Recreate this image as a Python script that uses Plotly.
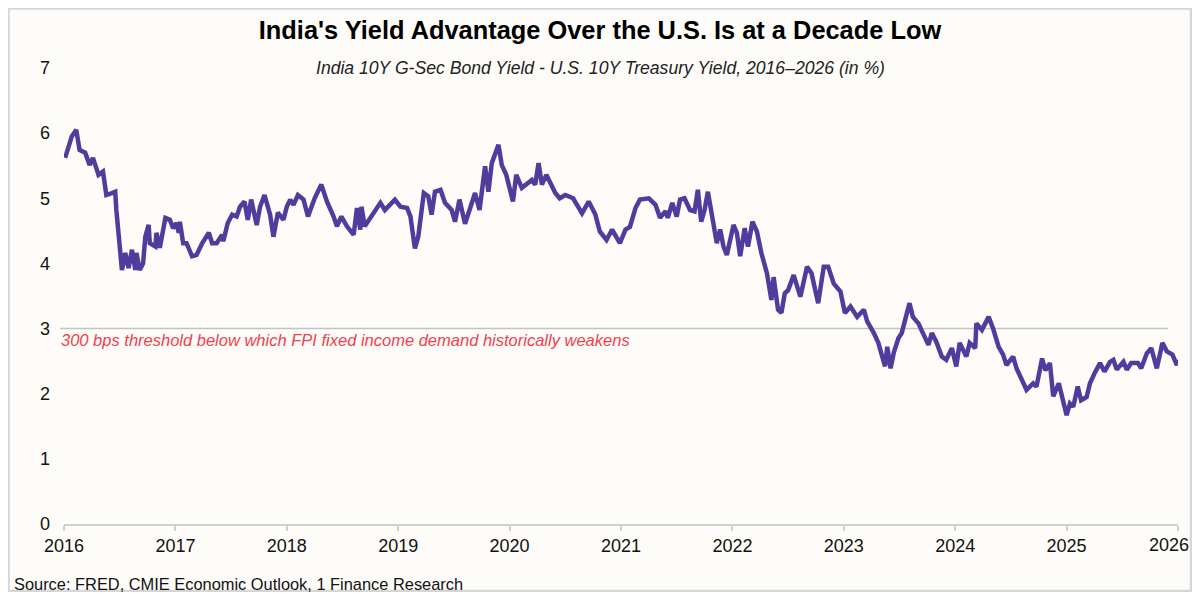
"""India 10Y minus US 10Y yield spread, 2016-2026."""
import plotly.graph_objects as go

# time axis in decimal years
years = [
    2016.01, 2016.04, 2016.07, 2016.11, 2016.13, 2016.14, 2016.19, 2016.23, 2016.26, 2016.31,
    2016.35, 2016.38, 2016.43, 2016.46, 2016.47, 2016.50, 2016.52, 2016.55, 2016.58, 2016.61,
    2016.64, 2016.65, 2016.68, 2016.71, 2016.73, 2016.76, 2016.77, 2016.82, 2016.83, 2016.86,
    2016.91, 2016.95, 2016.98, 2017.01, 2017.03, 2017.04, 2017.07, 2017.10, 2017.15, 2017.19,
    2017.24, 2017.30, 2017.33, 2017.37, 2017.42, 2017.43, 2017.47, 2017.51, 2017.55, 2017.58,
    2017.62, 2017.65, 2017.68, 2017.73, 2017.76, 2017.80, 2017.85, 2017.88, 2017.92, 2017.97,
    2018.00, 2018.03, 2018.06, 2018.10, 2018.15, 2018.19, 2018.25, 2018.31, 2018.36, 2018.42,
    2018.45, 2018.49, 2018.54, 2018.60, 2018.63, 2018.66, 2018.67, 2018.70, 2018.76, 2018.84,
    2018.88, 2018.97, 2019.02, 2019.08, 2019.11, 2019.15, 2019.18, 2019.23, 2019.27, 2019.30,
    2019.33, 2019.38, 2019.42, 2019.48, 2019.51, 2019.55, 2019.60, 2019.64, 2019.69, 2019.73,
    2019.78, 2019.81, 2019.84, 2019.90, 2019.93, 2019.97, 2020.03, 2020.06, 2020.11, 2020.20,
    2020.23, 2020.26, 2020.29, 2020.33, 2020.41, 2020.45, 2020.50, 2020.57, 2020.65, 2020.71,
    2020.77, 2020.81, 2020.87, 2020.92, 2020.99, 2021.04, 2021.08, 2021.13, 2021.17, 2021.25,
    2021.31, 2021.35, 2021.40, 2021.42, 2021.46, 2021.50, 2021.53, 2021.57, 2021.62, 2021.66,
    2021.69, 2021.72, 2021.75, 2021.78, 2021.83, 2021.86, 2021.89, 2021.92, 2021.95, 2021.98,
    2022.01, 2022.04, 2022.07, 2022.11, 2022.14, 2022.18, 2022.22, 2022.26, 2022.31, 2022.35,
    2022.37, 2022.41, 2022.44, 2022.47, 2022.50, 2022.55, 2022.61, 2022.67, 2022.71, 2022.77,
    2022.82, 2022.86, 2022.91, 2022.97, 2023.01, 2023.06, 2023.12, 2023.18, 2023.21, 2023.27,
    2023.31, 2023.37, 2023.39, 2023.42, 2023.45, 2023.49, 2023.52, 2023.55, 2023.59, 2023.62,
    2023.67, 2023.71, 2023.76, 2023.79, 2023.83, 2023.88, 2023.92, 2023.97, 2024.01, 2024.04,
    2024.10, 2024.13, 2024.18, 2024.19, 2024.24, 2024.30, 2024.34, 2024.39, 2024.43, 2024.46,
    2024.52, 2024.55, 2024.60, 2024.64, 2024.70, 2024.73, 2024.78, 2024.81, 2024.85, 2024.88,
    2024.93, 2024.97, 2025.00, 2025.03, 2025.06, 2025.10, 2025.13, 2025.18, 2025.21, 2025.25,
    2025.30, 2025.34, 2025.39, 2025.42, 2025.45, 2025.51, 2025.54, 2025.58, 2025.64, 2025.67,
    2025.72, 2025.76, 2025.81, 2025.86, 2025.90, 2025.95, 2025.99, 2026.00,
]

# spread in percentage points
spread = [
    5.62, 5.80, 5.95, 6.05, 5.80, 5.74, 5.70, 5.51, 5.62, 5.36,
    5.41, 5.05, 5.08, 5.10, 4.82, 4.26, 3.90, 4.16, 3.93, 4.21,
    3.90, 4.16, 3.90, 4.00, 4.41, 4.59, 4.31, 4.26, 4.47, 4.24,
    4.70, 4.67, 4.54, 4.62, 4.47, 4.64, 4.31, 4.31, 4.11, 4.13,
    4.31, 4.47, 4.31, 4.31, 4.44, 4.34, 4.62, 4.75, 4.72, 4.87,
    4.95, 4.67, 4.98, 4.59, 4.87, 5.05, 4.75, 4.41, 4.78, 4.67,
    4.87, 4.98, 4.90, 5.05, 4.98, 4.72, 5.00, 5.21, 4.95, 4.72,
    4.57, 4.72, 4.57, 4.44, 4.85, 4.52, 4.87, 4.57, 4.72, 4.93,
    4.82, 4.98, 4.87, 4.85, 4.72, 4.23, 4.41, 5.08, 5.03, 4.75,
    5.10, 5.13, 4.93, 4.82, 4.64, 4.98, 4.61, 4.80, 5.08, 4.82,
    5.49, 5.10, 5.54, 5.82, 5.51, 5.36, 4.95, 5.36, 5.16, 5.28,
    5.21, 5.54, 5.21, 5.36, 5.08, 5.00, 5.05, 5.00, 4.77, 4.95,
    4.75, 4.49, 4.36, 4.52, 4.31, 4.52, 4.56, 4.85, 4.98, 5.00,
    4.90, 4.70, 4.80, 4.70, 4.93, 4.72, 4.98, 5.00, 4.82, 4.80,
    5.13, 4.64, 4.82, 5.10, 4.57, 4.31, 4.52, 4.26, 4.13, 4.36,
    4.59, 4.47, 4.11, 4.54, 4.26, 4.64, 4.49, 4.16, 3.85, 3.44,
    3.79, 3.29, 3.24, 3.54, 3.59, 3.82, 3.49, 3.95, 3.85, 3.39,
    3.95, 3.95, 3.69, 3.57, 3.24, 3.34, 3.18, 3.29, 3.11, 2.93,
    2.78, 2.42, 2.72, 2.39, 2.64, 2.85, 2.93, 3.13, 3.39, 3.18,
    3.08, 2.93, 2.75, 2.93, 2.80, 2.57, 2.52, 2.70, 2.42, 2.78,
    2.57, 2.78, 2.70, 3.08, 2.98, 3.18, 3.00, 2.72, 2.60, 2.44,
    2.57, 2.39, 2.21, 2.06, 2.16, 2.11, 2.54, 2.36, 2.47, 1.96,
    2.16, 1.85, 1.67, 1.85, 1.80, 2.11, 1.90, 1.95, 2.16, 2.31,
    2.47, 2.34, 2.49, 2.52, 2.37, 2.49, 2.37, 2.47, 2.47, 2.39,
    2.62, 2.70, 2.39, 2.78, 2.65, 2.60, 2.44, 2.52,
]

year_ticks = list(range(2016, 2027))
threshold = 3.0

BG = "#FDFCF8"
LINE = "#513C9E"
FONT = "Liberation Sans, Arial, sans-serif"

# the page body sits 8px in from the window edge, so keep the figure inside it
W, H = 1184, 584
ML, MR, MT, MB = 56, 14, 60, 68
PW, PH = W - ML - MR, H - MT - MB


def px_x(x):
    """figure pixel column -> paper x"""
    return (x - ML) / PW


def px_y(y):
    """figure pixel row -> paper y"""
    return (H - MB - y) / PH


fig = go.Figure()

fig.add_trace(go.Scatter(
    x=years, y=spread, mode="lines",
    line=dict(color=LINE, width=4.5),
    hovertemplate="%{x:.2f}: %{y:.2f}%<extra></extra>",
))

# 300 bps reference line
fig.add_shape(
    type="line", xref="paper", yref="y",
    x0=px_x(52), x1=px_x(1160), y0=threshold, y1=threshold,
    line=dict(color="#C4C4C4", width=1.5), layer="below",
)

fig.add_annotation(
    x=px_x(52), y=threshold, xref="paper", yref="y",
    xanchor="left", yanchor="top", yshift=0, xshift=-1, showarrow=False,
    text="<i>300 bps threshold below which FPI fixed income demand historically weakens</i>",
    font=dict(family=FONT, size=16.5, color="#F0404E"),
)

fig.add_annotation(
    x=px_x(W / 2), y=1.0, xref="paper", yref="paper",
    xanchor="center", yanchor="middle", showarrow=False,
    text="<i>India 10Y G-Sec Bond Yield - U.S. 10Y Treasury Yield, 2016\u20132026 (in %)</i>",
    font=dict(family=FONT, size=17.6, color="#222222"),
)

fig.add_annotation(
    x=px_x(4), y=px_y(576), xref="paper", yref="paper",
    xanchor="left", yanchor="middle", showarrow=False,
    text="Source: FRED, CMIE Economic Outlook, 1 Finance Research",
    font=dict(family=FONT, size=16.4, color="#111111"),
)

# last year label sits against the right edge, so pin it inside the page
fig.add_annotation(
    x=px_x(W - 1), y=px_y(537), xref="paper", yref="paper",
    xanchor="right", yanchor="middle", showarrow=False,
    text=str(year_ticks[-1]),
    font=dict(family=FONT, size=18, color="#111111"),
)

# thin grey frame round the whole picture
fig.add_shape(
    type="rect", xref="paper", yref="paper",
    x0=px_x(0.5), x1=px_x(W - 1), y0=px_y(H - 1), y1=px_y(0.5),
    line=dict(color="#D6D6D6", width=2.5), layer="below",
)

fig.update_layout(
    width=W, height=H,
    margin=dict(l=ML, r=MR, t=MT, b=MB),
    paper_bgcolor=BG, plot_bgcolor=BG,
    showlegend=False,
    font=dict(family=FONT, size=18, color="#111111"),
    title=dict(
        text="<b>India's Yield Advantage Over the U.S. Is at a Decade Low</b>",
        x=0.5, xanchor="center", y=1 - 22 / H, yanchor="middle",
        font=dict(family=FONT, size=25.4, color="#000000"),
    ),
    xaxis=dict(
        range=[2016, 2026], tickvals=year_ticks,
        ticktext=[str(y) for y in year_ticks[:-1]] + [""],
        showgrid=False, zeroline=False, showline=True, linecolor="#D0D0D0", linewidth=1.5,
        ticks="outside", ticklen=5, tickcolor="#D0D0D0", tickwidth=1.5,
        tickfont=dict(size=18),
    ),
    yaxis=dict(
        range=[0, 7], dtick=1, showgrid=False, zeroline=False, showline=False,
        ticks="", ticklabelstandoff=13, tickfont=dict(size=18),
    ),
)

fig.write_html("out.html")
